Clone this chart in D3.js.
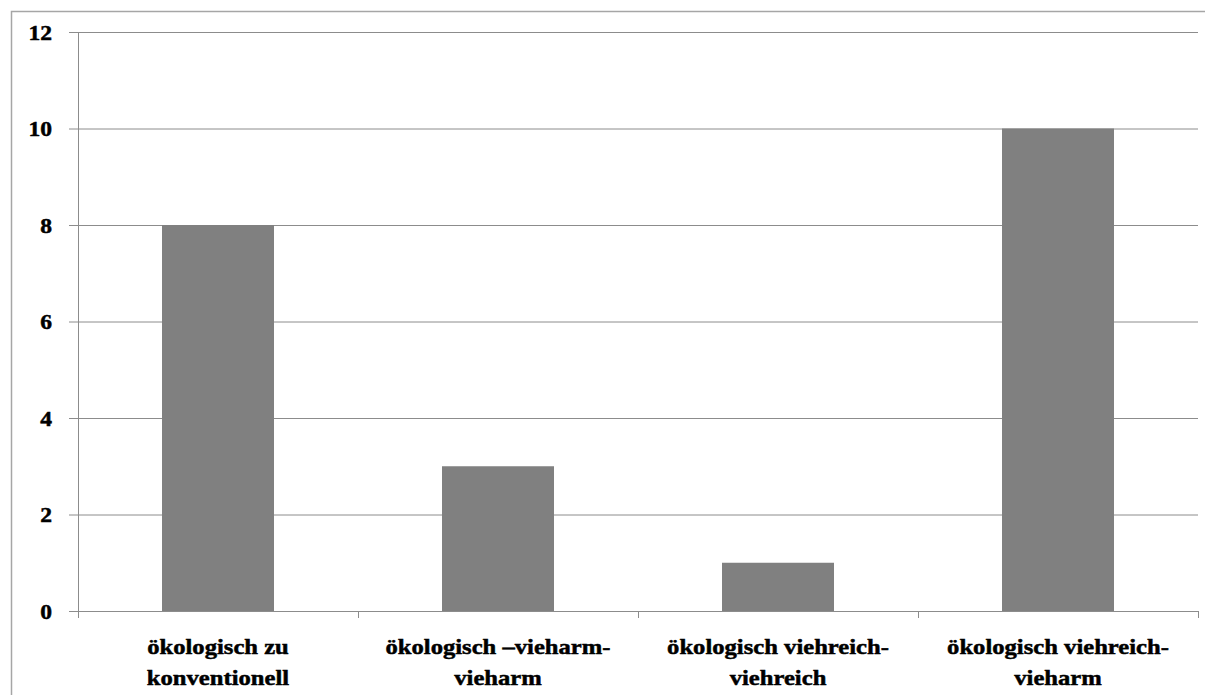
<!DOCTYPE html>
<html>
<head>
<meta charset="utf-8">
<script src="https://cdn.jsdelivr.net/npm/d3@7"></script>
<style>
  html, body { margin: 0; padding: 0; background: #fff; }
  svg { display: block; }
</style>
</head>
<body>
<svg id="chart" width="1205" height="695"></svg>
<script>
// Kategorien (zweizeilige Beschriftung) und Werte
const categories = [
  ["ökologisch zu", "konventionell"],
  ["ökologisch –vieharm-", "vieharm"],
  ["ökologisch viehreich-", "viehreich"],
  ["ökologisch viehreich-", "vieharm"]
];
const values = [8, 3, 1, 10];
const yTicks = [0, 2, 4, 6, 8, 10, 12];

const svg = d3.select("#chart");
const W = 1205, H = 695;
const margin = { top: 32, right: 7, bottom: 84, left: 78 };
const plotW = W - margin.left - margin.right;
const plotH = H - margin.top - margin.bottom;
const serif = "Liberation Serif, Times New Roman, serif";

// Rahmen um die gesamte Diagrammfläche
svg.append("rect")
  .attr("x", 11.5).attr("y", 11.5)
  .attr("width", W + 10).attr("height", H + 10)
  .attr("fill", "none").attr("stroke", "#a6a6a6").attr("stroke-width", 1.5);

const g = svg.append("g").attr("transform", `translate(${margin.left},${margin.top})`);

const x = d3.scaleBand().domain(d3.range(categories.length)).range([0, plotW])
  .paddingInner(0.6).paddingOuter(0.3);
const xOuter = d3.scaleBand().domain(d3.range(categories.length)).range([0, plotW]);
const y = d3.scaleLinear().domain([0, 12]).range([plotH, 0]);

// Horizontale Gitterlinien mit Teilstrichen links
const yAxis = g.append("g")
  .call(d3.axisLeft(y).tickValues(yTicks).tickSize(-plotW).tickSizeOuter(0));
yAxis.attr("font-family", serif).attr("font-size", 22);
yAxis.select(".domain").remove();
yAxis.selectAll(".tick line").attr("stroke", "#8c8c8c").attr("stroke-width", 1)
  .attr("x1", -9);
yAxis.selectAll(".tick text")
  .attr("font-weight", "bold").attr("fill", "#000")
  .attr("stroke", "#000").attr("stroke-width", 0.5)
  .attr("x", 0).attr("dy", "0.33em")
  .attr("transform", "translate(-26,0) scale(1.07,1)");

// Senkrechte Achse
g.append("line").attr("x1", 0.5).attr("x2", 0.5).attr("y1", 0).attr("y2", plotH)
  .attr("stroke", "#8c8c8c");

// Balken
g.selectAll("rect.bar").data(values).enter().append("rect")
  .attr("class", "bar")
  .attr("x", (d, i) => x(i))
  .attr("width", x.bandwidth())
  .attr("y", d => y(d))
  .attr("height", d => plotH - y(d))
  .attr("fill", "#808080");

// Waagerechte Achse mit Teilstrichen an den Kategoriegrenzen
g.append("line").attr("x1", 0).attr("x2", plotW).attr("y1", plotH + 0.5).attr("y2", plotH + 0.5)
  .attr("stroke", "#8c8c8c");
const bounds = d3.range(categories.length + 1).map(i => i < categories.length ? xOuter(i) : plotW);
g.selectAll("line.xtick").data(bounds).enter().append("line")
  .attr("class", "xtick")
  .attr("x1", d => Math.round(d) + 0.5).attr("x2", d => Math.round(d) + 0.5)
  .attr("y1", plotH).attr("y2", plotH + 7)
  .attr("stroke", "#8c8c8c");

// Kategoriebeschriftungen
const labels = g.selectAll("text.xlabel").data(categories).enter().append("text")
  .attr("class", "xlabel")
  .attr("text-anchor", "middle")
  .attr("font-family", serif)
  .attr("font-weight", "bold").attr("font-size", 22).attr("fill", "#000")
  .attr("stroke", "#000").attr("stroke-width", 0.5)
  .attr("transform", (d, i) =>
    `translate(${xOuter(i) + xOuter.bandwidth() / 2},${plotH + 43}) scale(1.12,1)`);
labels.selectAll("tspan").data(d => d).enter().append("tspan")
  .attr("x", 0).attr("dy", (d, i) => i === 0 ? 0 : 31)
  .text(d => d);
</script>
</body>
</html>
